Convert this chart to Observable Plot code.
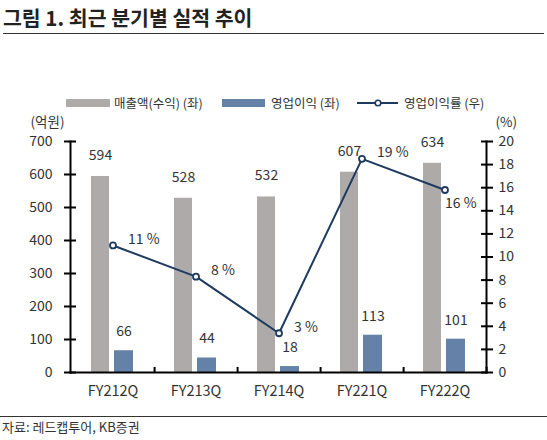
<!DOCTYPE html>
<html>
<head>
<meta charset="utf-8">
<script src="https://cdn.jsdelivr.net/npm/d3@7"></script>
<script src="https://cdn.jsdelivr.net/npm/@observablehq/plot@0.6"></script>
<style>
  body { margin: 0; background: #fff; font-family: "Noto Sans CJK KR", "Noto Sans", sans-serif; color: #333; }
  #wrap { position: relative; width: 547px; height: 440px; overflow: hidden; }
  .abs { position: absolute; white-space: nowrap; }
  #title { left: 3px; top: 3px; font-size: 20.5px; font-weight: 700; color: #222; line-height: 28px; }
  #titleRule { left: 3px; top: 33px; width: 541px; height: 0; border-top: 1px solid #333; }
  .sw { position: absolute; height: 8px; }
  .lg { position: absolute; font-size: 12.5px; line-height: 16px; top: 95px; color: #333; }
  #chart { position: absolute; left: 0; top: 110px; }
  #footRule { left: 0; top: 416px; width: 547px; height: 0; border-top: 1px solid #333; }
  #source { left: 2px; top: 419px; font-size: 13px; line-height: 16px; color: #333; }
</style>
</head>
<body>
<div id="wrap">
  <div id="title" class="abs"></div>
  <div id="titleRule" class="abs"></div>
  <div id="legend"></div>
  <div id="chart"></div>
  <div id="footRule" class="abs"></div>
  <div id="source" class="abs"></div>
</div>
<script>
const titleText = "그림 1. 최근 분기별 실적 추이";
const sourceText = "자료: 레드캡투어, KB증권";
const categories = ["FY212Q", "FY213Q", "FY214Q", "FY221Q", "FY222Q"];
const sales = [594, 528, 532, 607, 634];          // 매출액(수익), 억원
const opProfit = [66, 44, 18, 113, 101];          // 영업이익, 억원
const opMargin = [11.0, 8.3, 3.4, 18.5, 15.8];    // 영업이익률, %
const opMarginLabels = ["11 %", "8 %", "3 %", "19 %", "16 %"];
const leftTicks = [0, 100, 200, 300, 400, 500, 600, 700];
const rightTicks = [0, 2, 4, 6, 8, 10, 12, 14, 16, 18, 20];
const seriesNames = ["매출액(수익) (좌)", "영업이익 (좌)", "영업이익률 (우)"];
const leftUnit = "(억원)";
const rightUnit = "(%)";

const colSales = "#aeaaaa";
const colOp = "#6482a8";
const colLine = "#1f3a5f";

document.getElementById("title").textContent = titleText;
document.getElementById("source").textContent = sourceText;

// Legend (HTML)
const legend = document.getElementById("legend");
legend.innerHTML = `
  <div class="sw" style="left:66px;top:99px;width:44px;background:${colSales}"></div>
  <div class="lg" style="left:114px">${seriesNames[0]}</div>
  <div class="sw" style="left:222px;top:99px;width:43px;background:${colOp}"></div>
  <div class="lg" style="left:271px">${seriesNames[1]}</div>
  <svg style="position:absolute;left:356px;top:97px" width="44" height="12">
    <line x1="1" x2="42" y1="6" y2="6" stroke="${colLine}" stroke-width="2"/>
    <circle cx="22" cy="6" r="2.8" fill="#fff" stroke="${colLine}" stroke-width="1.6"/>
  </svg>
  <div class="lg" style="left:404px">${seriesNames[2]}</div>
`;

const leftMax = 700, rightMax = 20;
const k = leftMax / rightMax;

const rows = categories.map((c, i) => ({
  cat: c, sales: sales[i], op: opProfit[i], margin: opMargin[i], mlabel: opMarginLabels[i]
}));

const W = 547, H = 295, mL = 70, mR = 61, mT = 31, mB = 33;
const bw = (W - mL - mR) / categories.length;
const font = "Noto Sans CJK KR, Noto Sans, sans-serif";

const chart = Plot.plot({
  width: W, height: H,
  marginLeft: mL, marginRight: mR, marginTop: mT, marginBottom: mB,
  style: { fontFamily: font, fontSize: "14px", color: "#333", background: "transparent", overflow: "visible" },
  x: { type: "band", domain: categories, padding: 0, axis: null },
  y: { domain: [0, leftMax], axis: null },
  marks: [
    Plot.barY(rows, { x: "cat", y: "sales", fill: colSales, insetLeft: 20, insetRight: 45 }),
    Plot.barY(rows, { x: "cat", y: "op", fill: colOp, insetLeft: 43, insetRight: 21 }),
    Plot.text(rows, { x: "cat", y: "sales", text: d => String(d.sales), dx: -12.5, dy: -21, fill: "#333", fontSize: 14 }),
    Plot.text(rows, { x: "cat", y: "op", text: d => String(d.op), dx: 11, dy: -19, fill: "#333", fontSize: 14 }),
    // axes lines
    Plot.frame({ anchor: "left", stroke: "#000", strokeWidth: 2 }),
    Plot.frame({ anchor: "right", stroke: "#000", strokeWidth: 2 }),
    Plot.frame({ anchor: "bottom", stroke: "#000", strokeWidth: 2 }),
    // left axis
    Plot.axisY(leftTicks, { anchor: "left", tickSize: 12, dx: 6, text: null, label: null, stroke: "#000", strokeWidth: 2 }),
    Plot.axisY(leftTicks, { anchor: "left", tickSize: 0, tickPadding: 18, label: null, fontSize: 14, fill: "#333" }),
    // right axis
    Plot.axisY(rightTicks.map(v => v * k), { anchor: "right", tickSize: 12, dx: -6, text: null, label: null, stroke: "#000", strokeWidth: 2 }),
    Plot.axisY(rightTicks.map(v => v * k), { anchor: "right", tickSize: 0, tickPadding: 12, label: null, tickFormat: d => String(Math.round(d / k)), fontSize: 14, fill: "#333" }),
    // x axis
    Plot.axisX({ tickSize: 0, tickPadding: 13, label: null, fontSize: 14.5, fill: "#333" }),
    Plot.axisX({ tickSize: 5, dy: -5, dx: bw / 2, text: null, label: null, stroke: "#000", strokeWidth: 2 }),
    // unit labels
    Plot.text([leftUnit], { frameAnchor: "top-left", dx: -40, dy: -24, textAnchor: "start", fontSize: 13.5, fill: "#333" }),
    Plot.text([rightUnit], { frameAnchor: "top-right", dx: 9, dy: -24, textAnchor: "start", fontSize: 13.5, fill: "#333" }),
    // margin line
    Plot.line(rows, { x: "cat", y: d => d.margin * k, stroke: colLine, strokeWidth: 2 }),
    Plot.dot(rows, { x: "cat", y: d => d.margin * k, r: 3, fill: "#fff", stroke: colLine, strokeWidth: 1.8 }),
    Plot.text(rows.slice(0, 4), { x: "cat", y: d => d.margin * k, text: "mlabel", textAnchor: "start", dx: 15, dy: -6, fill: "#333", fontSize: 14 }),
    Plot.text(rows.slice(4), { x: "cat", y: d => d.margin * k, text: "mlabel", textAnchor: "start", dx: 0, dy: 14, fill: "#333", fontSize: 14 })
  ]
});
document.getElementById("chart").appendChild(chart);
</script>
</body>
</html>
